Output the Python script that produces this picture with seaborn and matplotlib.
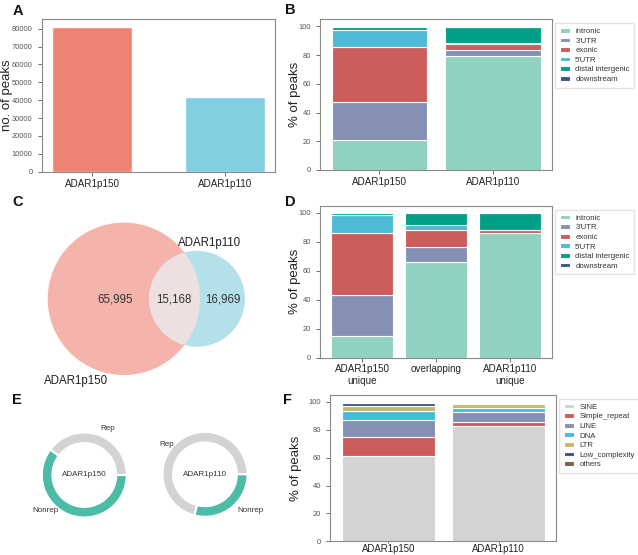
import numpy as np
import matplotlib
matplotlib.use('Agg')
import matplotlib.pyplot as plt
import seaborn as sns
from matplotlib.patches import Circle

# ---------------- DATA ---------------- #
samples = ['ADAR1p150', 'ADAR1p110']
peak_counts = [81163, 42000]
bar_colors = ['#ef8272', '#82cee1']

regions = ['intronic', "3'UTR", 'exonic', "5'UTR", 'distal intergenic', 'downstream']
region_colors = ['#91d1c2', '#8491b4', '#cd5c5c', '#4dbbd5', '#00a087', '#3c5488']
region_pct_150 = [20.8, 26.3, 38.5, 11.9, 2.3, 0.2]
region_pct_110 = [79.5, 4.2, 4.4, 0.6, 11.1, 0.2]

groups = ['ADAR1p150\nunique', 'overlapping', 'ADAR1p110\nunique']
group_pct_150u = [15.0, 28.5, 42.6, 12.7, 1.0, 0.2]
group_pct_overlap = [66.0, 10.2, 12.0, 3.7, 7.9, 0.2]
group_pct_110u = [85.9, 0.3, 2.0, 0.3, 11.3, 0.2]

venn_only_150 = 65995
venn_both = 15168
venn_only_110 = 16969

rep_labels = ['Rep', 'Nonrep']
rep_colors = ['#d3d3d3', '#4dbca6']
rep_pct_150 = [39.8, 60.2]
rep_pct_110 = [71.0, 29.0]

repeats = ['SINE', 'Simple_repeat', 'LINE', 'DNA', 'LTR', 'Low_complexity', 'others']
repeat_colors = ['#d3d3d3', '#cd5c5c', '#8491b4', '#45bcd8', '#c2b96a', '#3c5488', '#7e6148']
repeat_pct_150 = [61.2, 13.6, 11.9, 7.0, 3.6, 2.2, 0.4]
repeat_pct_110 = [83.0, 2.9, 7.1, 2.9, 2.9, 0.3, 0.3]

# ---------------- STYLE ---------------- #
sns.set_theme(style='ticks')
plt.rcParams['font.family'] = ['Liberation Sans', 'DejaVu Sans']
plt.rcParams['axes.edgecolor'] = '#8a8a8a'
plt.rcParams['axes.linewidth'] = 0.8

W, H = 638, 555
fig = plt.figure(figsize=(W / 100, H / 100), dpi=100)


def px_axes(left, top, right, bottom):
    return fig.add_axes([left / W, 1 - bottom / H, (right - left) / W, (bottom - top) / H])


def style_axes(ax, ylabel, label_x):
    ax.tick_params(axis='y', labelsize=5.4, colors='#555555', length=3, width=0.6)
    ax.tick_params(axis='x', labelsize=7.1, length=3, width=0.6, color='#555555', labelcolor='#222222', pad=2)
    ax.set_ylabel(ylabel, fontsize=9.5, color='#222222')
    ax.yaxis.set_label_coords(label_x, 0.5)
    ax.set_xlabel('')


def stacked(ax, names, series, cats, colors):
    data = np.array(series)
    x = np.arange(len(names))
    bottom = np.zeros(len(names))
    for j, cat in enumerate(cats):
        ax.bar(x, data[:, j], 0.84, bottom=bottom, color=colors[j],
               edgecolor='white', linewidth=0.8, label=cat)
        bottom += data[:, j]
    ax.set_xticks(x, names)
    ax.set_ylim(0, 105)


def side_legend(ax, x, y):
    ax.legend(loc='upper left', bbox_to_anchor=(x / W, 1 - y / H), bbox_transform=fig.transFigure,
              borderaxespad=0, fontsize=5.6, frameon=True, fancybox=False, edgecolor='#dddddd',
              handlelength=1.3, handleheight=0.55, handletextpad=0.7, labelspacing=0.32,
              borderpad=0.6, labelcolor='#333333')


# ---------------- A: peak counts ---------------- #
ax_a = px_axes(41.7, 19.3, 275.3, 171.7)
sns.barplot(x=samples, y=peak_counts, hue=samples, palette=bar_colors, width=0.6,
            saturation=1, legend=False, ax=ax_a)
ax_a.set_xlim(-0.38, 1.38)
ax_a.set_ylim(0, max(peak_counts) * 1.05)
style_axes(ax_a, 'no. of peaks', -0.125)

# ---------------- B: genomic regions ---------------- #
ax_b = px_axes(320, 19.3, 552.3, 170)
stacked(ax_b, samples, [region_pct_150, region_pct_110], regions, region_colors)
ax_b.set_xlim(-0.523, 1.52)
style_axes(ax_b, '% of peaks', -0.08)
side_legend(ax_b, 555, 23.3)

# ---------------- C: Venn ---------------- #
ax_c = px_axes(0, 200, 280, 395)
ax_c.set_xlim(0, 280)
ax_c.set_ylim(395, 200)
ax_c.axis('off')
size_150 = venn_only_150 + venn_both
size_110 = venn_only_110 + venn_both
r150 = 76.2
r110 = r150 * np.sqrt(size_110 / size_150)
target = np.pi * r150 ** 2 * venn_both / size_150


def lens_area(d, r1, r2):
    a1 = r1 ** 2 * np.arccos((d ** 2 + r1 ** 2 - r2 ** 2) / (2 * d * r1))
    a2 = r2 ** 2 * np.arccos((d ** 2 + r2 ** 2 - r1 ** 2) / (2 * d * r2))
    a3 = 0.5 * np.sqrt((-d + r1 + r2) * (d + r1 - r2) * (d - r1 + r2) * (d + r1 + r2))
    return a1 + a2 - a3


lo, hi = r150 - r110 + 1e-6, r150 + r110 - 1e-6
for _ in range(80):
    mid = (lo + hi) / 2
    if lens_area(mid, r150, r110) > target:
        lo = mid
    else:
        hi = mid
dist = (lo + hi) / 2
c150 = (123.9, 298.8)
c110 = (123.9 + dist, 298.8)

big = Circle(c150, r150, fc='#f4b4ac', ec='none')
ax_c.add_patch(big)
ax_c.add_patch(Circle(c110, r110, fc='#b4e0ea', ec='none'))
lens = Circle(c110, r110, fc='#ece0e0', ec='none')
ax_c.add_patch(lens)
lens.set_clip_path(big)

ax_c.text(115, 299.3, f'{venn_only_150:,}', ha='center', va='center', fontsize=8.3, color='#333333')
ax_c.text(174, 299.3, f'{venn_both:,}', ha='center', va='center', fontsize=8.3, color='#333333')
ax_c.text(222.7, 299.3, f'{venn_only_110:,}', ha='center', va='center', fontsize=8.3, color='#333333')
ax_c.text(210, 242.7, samples[1], ha='center', va='center', fontsize=8.3, color='#222222')
ax_c.text(76, 380.7, samples[0], ha='center', va='center', fontsize=8.3, color='#222222')

# ---------------- D: peak groups ---------------- #
ax_d = px_axes(320, 205.7, 552.3, 357.5)
stacked(ax_d, groups, [group_pct_150u, group_pct_overlap, group_pct_110u], regions, region_colors)
ax_d.set_xlim(-0.575, 2.575)
style_axes(ax_d, '% of peaks', -0.08)
side_legend(ax_d, 555, 210)

# ---------------- E: repeat donuts ---------------- #
donut_r = 42.5
label_pos = {
    0: [(0.37, 1.1, 'left'), (-0.6, -0.83, 'right')],
    1: [(-0.73, 0.71, 'right'), (0.75, -0.84, 'left')],
}
for i, (cx, cy, vals) in enumerate([(84.3, 475, rep_pct_150), (205, 474.3, rep_pct_110)]):
    half = 1.25 * donut_r
    ax_e = px_axes(cx - half, cy - half, cx + half, cy + half)
    ax_e.pie(vals, colors=rep_colors, startangle=0, counterclock=True, radius=1,
             wedgeprops=dict(width=0.25, edgecolor='white', linewidth=1.5))
    ax_e.set_xlim(-1.25, 1.25)
    ax_e.set_ylim(-1.25, 1.25)
    ax_e.set_aspect('auto')
    ax_e.text(0, 0, samples[i], ha='center', va='center', fontsize=5.8, color='#333333')
    for (tx, ty, ha), lab in zip(label_pos[i], rep_labels):
        ax_e.text(tx, ty, lab, ha=ha, va='center', fontsize=5.8, color='#333333')

# ---------------- F: repeat classes ---------------- #
ax_f = px_axes(330, 395, 555.7, 541.3)
stacked(ax_f, samples, [repeat_pct_150, repeat_pct_110], repeats, repeat_colors)
ax_f.set_xlim(-0.528, 1.516)
style_axes(ax_f, '% of peaks', -0.125)
ax_f.tick_params(axis='x', labelsize=6.9, length=1.5, pad=0.5)
side_legend(ax_f, 559, 399)

# ---------------- panel letters ---------------- #
for letter, x, y in [('A', 12.7, 15), ('B', 284.7, 14), ('C', 12.7, 206),
                     ('D', 285, 206), ('E', 11.7, 404), ('F', 282.7, 404)]:
    fig.text(x / W, 1 - y / H, letter, fontsize=10.5, fontweight='bold', va='baseline', color='#111111')

fig.savefig('out.png', dpi=100)
